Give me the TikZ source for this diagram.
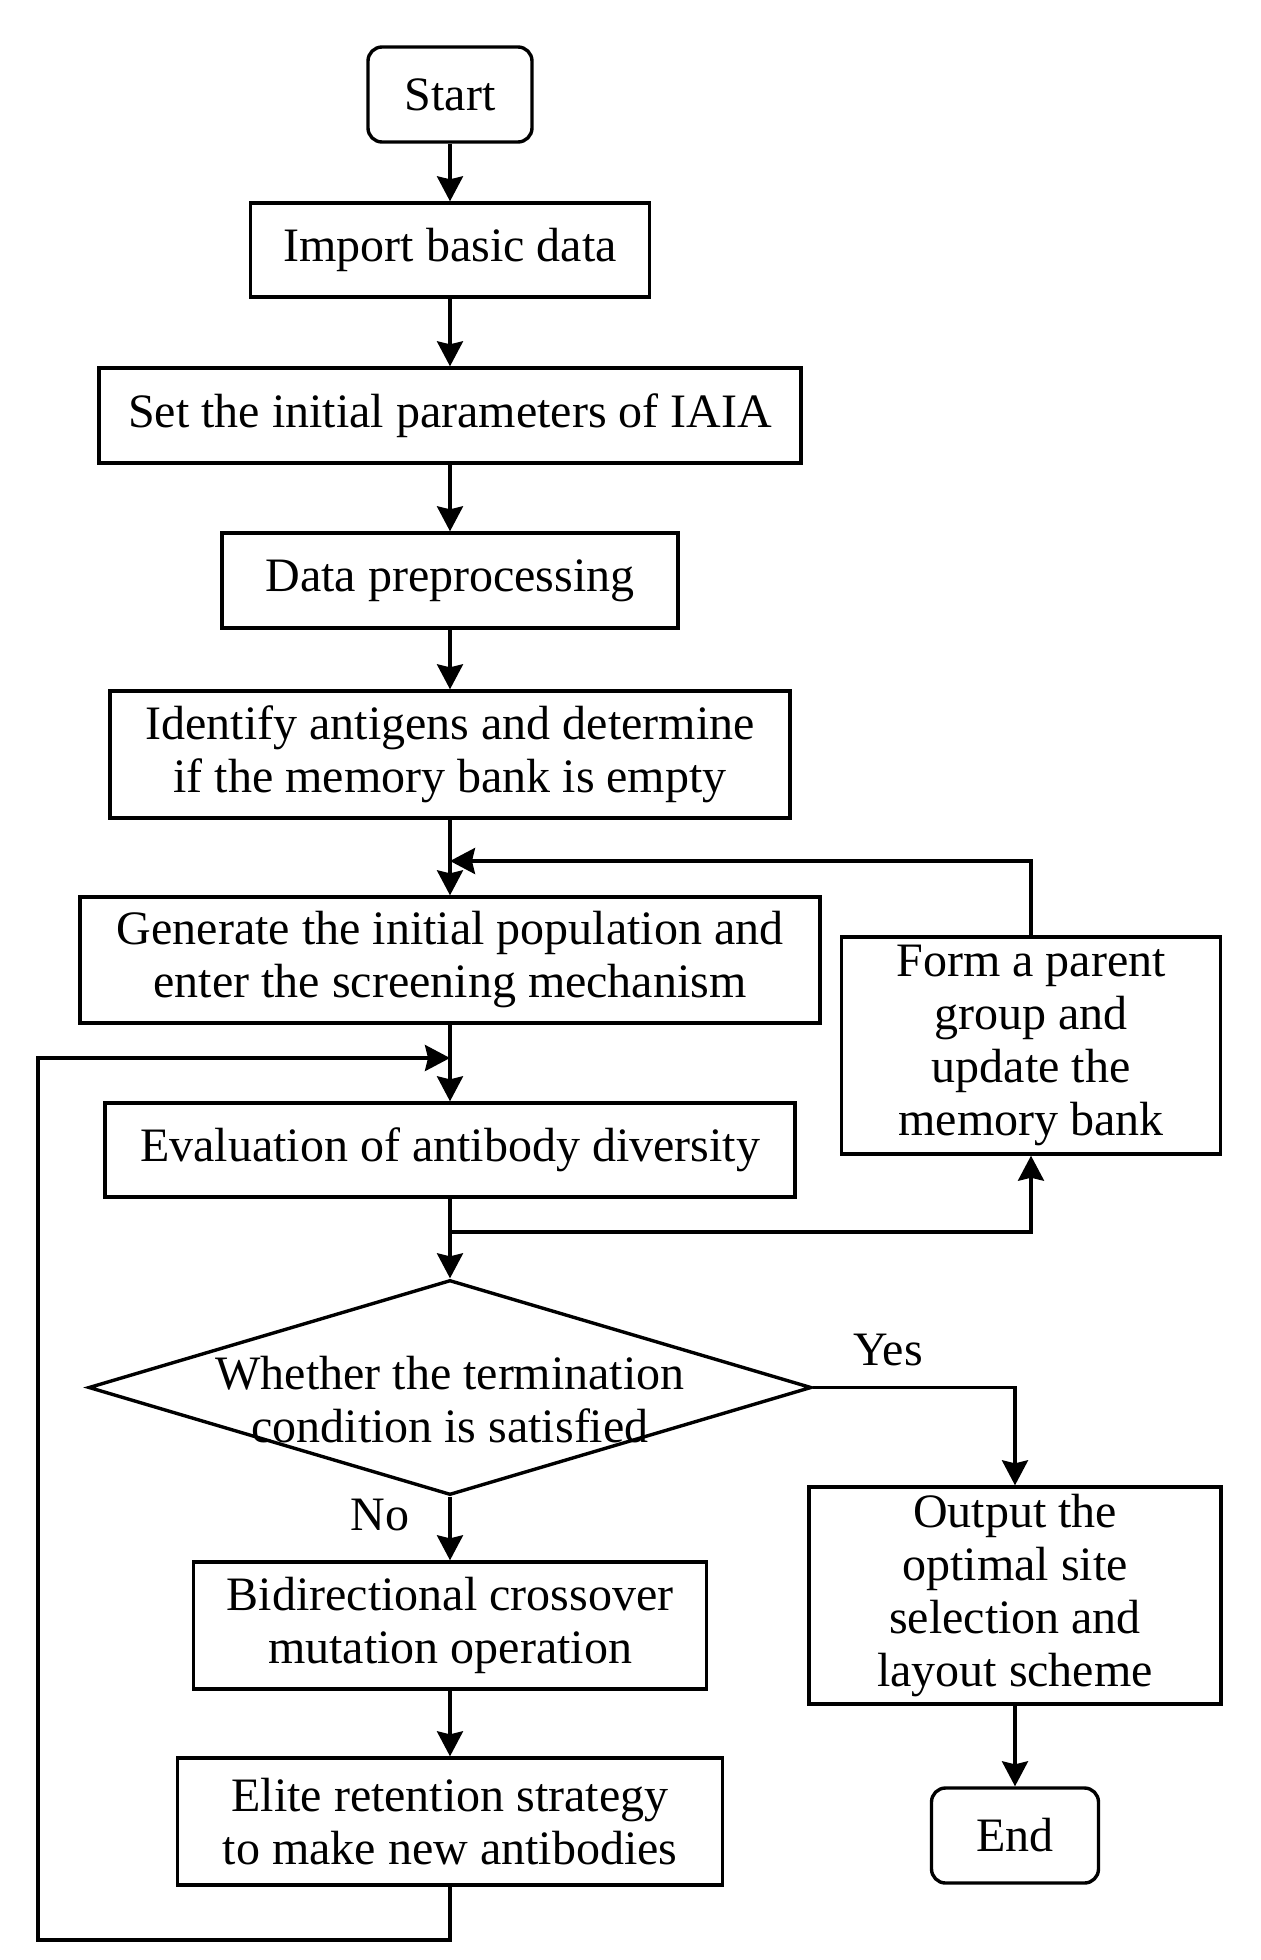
\documentclass[tikz,border=0pt]{standalone}
\usepackage{fontspec}
\setmainfont{Liberation Serif}
\usetikzlibrary{arrows.meta,shapes.geometric}
\tikzset{
  base/.style={draw=black,line width=1.7pt,align=center,inner sep=0pt,
    font=\fontsize{24pt}{26.5pt}\selectfont},
  procbox/.style={base,rectangle},
  termbox/.style={base,rectangle,rounded corners=7pt},
  decbox/.style={base,diamond},
  lbl/.style={inner sep=0pt,font=\fontsize{24pt}{26.5pt}\selectfont},
  arr/.style={draw=black,line width=1.7pt,-{Stealth[length=12.5pt,width=13pt,inset=1.5pt]}}
}
\begin{document}
\begin{tikzpicture}[x=0.5pt,y=-0.5pt]
\useasboundingbox (0,0) rectangle (1261,1960);
\node[termbox,minimum width=82pt,minimum height=47.5pt] (start) at (450,94.5) {Start};
\node[procbox,minimum width=199.5pt,minimum height=47pt] (import) at (450,250) {Import basic data};
\node[procbox,minimum width=351pt,minimum height=47.5pt] (set) at (450,415.5) {Set the initial parameters of IAIA};
\node[procbox,minimum width=228pt,minimum height=47.5pt] (prep) at (450,580.5) {Data preprocessing};
\node[procbox,minimum width=340pt,minimum height=63.5pt] (ident) at (450,754.5) {Identify antigens and determine\\if the memory bank is empty};
\node[procbox,minimum width=370pt,minimum height=63pt] (gen) at (450,960) {Generate the initial population and\\enter the screening mechanism};
\node[procbox,minimum width=189.5pt,minimum height=108.5pt] (form) at (1031,1045.5) {Form a parent\\group and\\update the\\memory bank};
\node[procbox,minimum width=345pt,minimum height=47pt] (eval) at (450,1150) {Evaluation of antibody diversity};
\node[decbox,minimum width=361.5pt,minimum height=107.5pt] (dec) at (450,1387.5) {};
\node[lbl,align=center] (dectext) at (450,1400) {Whether the termination\\condition is satisfied};
\node[procbox,minimum width=256.5pt,minimum height=63.5pt] (bid) at (450,1625.5) {Bidirectional crossover\\mutation operation};
\node[procbox,minimum width=272.5pt,minimum height=63.5pt] (elite) at (450,1821.5) {Elite retention strategy\\to make new antibodies};
\node[procbox,minimum width=206pt,minimum height=108.5pt] (out) at (1015,1595.5) {Output the\\optimal site\\selection and\\layout scheme};
\node[termbox,minimum width=83.5pt,minimum height=47.5pt] (end) at (1015,1835.5) {End};
\node[lbl,anchor=base] (yes) at (888,1365) {Yes};
\node[lbl,anchor=base] (no) at (380,1530) {No};
\coordinate (fb) at (450,861);
\coordinate (br) at (450,1232);
\coordinate (loopb) at (450,1940);
\coordinate (loopl) at (38,1940);
\coordinate (loopt) at (38,1058);
\coordinate (loopin) at (450,1058);
\draw[arr] (start) -- (import);
\draw[arr] (import) -- (set);
\draw[arr] (set) -- (prep);
\draw[arr] (prep) -- (ident);
\draw[arr] (ident) -- (gen);
\draw[arr] (form.north) |- (fb);
\draw[arr] (gen) -- (eval);
\draw[arr] (elite.south) -- (loopb) -- (loopl) -- (loopt) -- (loopin);
\draw[arr] (eval) -- (dec.north);
\draw[arr] (br) -| (form.south);
\draw[arr] (dec.east) -| (out.north);
\draw[arr] (dec.south) -- (bid.north);
\draw[arr] (bid) -- (elite);
\draw[arr] (out) -- (end);
\end{tikzpicture}
\end{document}
